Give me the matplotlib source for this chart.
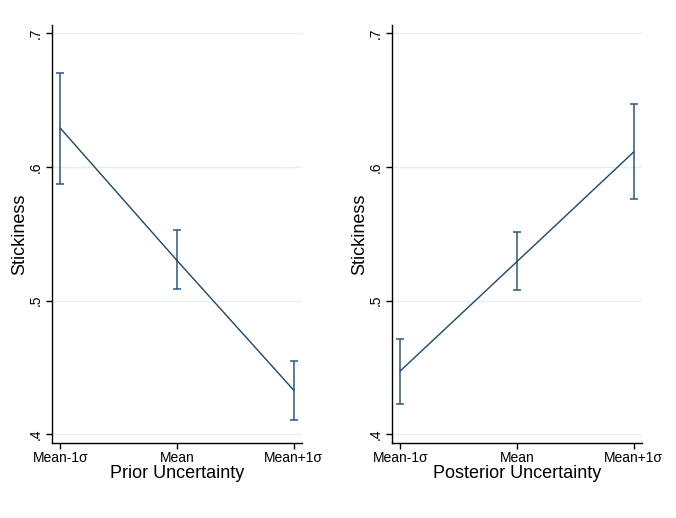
import matplotlib.pyplot as plt
import numpy as np

plt.rcParams['font.family'] = ['Liberation Sans', 'DejaVu Sans']

# data
levels = ['Mean-1σ', 'Mean', 'Mean+1σ']
prior_est = [0.629, 0.530, 0.433]
prior_lo = [0.5875, 0.5087, 0.4105]
prior_hi = [0.6706, 0.553, 0.4549]
post_est = [0.4474, 0.5292, 0.6112]
post_lo = [0.4227, 0.5078, 0.576]
post_hi = [0.4716, 0.5511, 0.6471]
yticks = [0.4, 0.5, 0.6, 0.7]
yticklabels = ['.4', '.5', '.6', '.7']

navy = '#1a476f'
grid = '#e6eef0'

fig = plt.figure(figsize=(6.76, 5.18), dpi=100)
ax1 = fig.add_axes([0.0774, 0.1454, 0.3694, 0.8063])
ax2 = fig.add_axes([0.5803, 0.1454, 0.3694, 0.8063])

panels = [(ax1, prior_est, prior_lo, prior_hi, 'Prior Uncertainty'),
          (ax2, post_est, post_lo, post_hi, 'Posterior Uncertainty')]

for ax, est, lo, hi, xlab in panels:
    x = np.arange(len(levels))
    est = np.array(est)
    err = [est - np.array(lo), np.array(hi) - est]
    ax.errorbar(x, est, yerr=err, fmt='none', ecolor='#2c5680', elinewidth=1.1,
                capsize=3, capthick=1.1, zorder=3)
    ax.plot(x, est, color=navy, linewidth=1.0, zorder=4)

    ax.set_xlim(-0.0686, 2.0714)
    ax.set_ylim(0.3937, 0.7062)
    ax.set_yticks(yticks)
    ax.set_yticklabels(yticklabels, rotation=90, va='center')
    ax.set_xticks(x)
    ax.set_xticklabels(levels)
    for t in yticks:
        ax.axhline(t, color=grid, linewidth=1.0, zorder=1)

    ax.spines['right'].set_visible(False)
    ax.spines['top'].set_visible(False)
    ax.spines['left'].set_linewidth(1.0)
    ax.spines['bottom'].set_linewidth(1.0)
    ax.tick_params(axis='both', length=4, width=1.0, labelsize=10, pad=3)
    ax.tick_params(axis='x', pad=2)
    ax.set_ylabel('Stickiness', fontsize=13, labelpad=0)
    ax.set_xlabel(xlab, fontsize=13, labelpad=0)

fig.savefig('out.png', dpi=100)
